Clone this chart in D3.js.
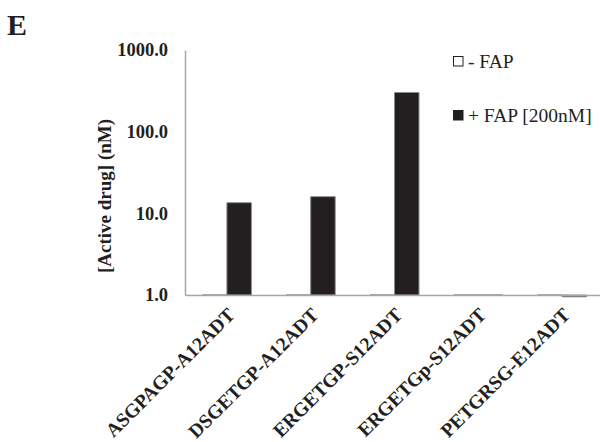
<!DOCTYPE html>
<html>
<head>
<meta charset="utf-8">
<script src="https://cdn.jsdelivr.net/npm/d3@7"></script>
<style>
  body { margin: 0; background: #fff; }
  svg { display: block; }
</style>
</head>
<body>
<div id="chart"></div>
<script>
const categories = ['ASGPAGP-A12ADT', 'DSGETGP-A12ADT', 'ERGETGP-S12ADT', 'ERGETGp-S12ADT', 'PETGRSG-E12ADT'];
const seriesNames = ['- FAP', '+ FAP [200nM]'];
const minusFap = [1.0, 1.0, 1.0, 1.0, 1.0];
const plusFap = [13.5, 16.0, 302, 1.0, 0.95];
const yTicks = [1, 10, 100, 1000];

const style = {
  ink: '#231f20',
  axis: '#a6a6a6',
  barStroke: '#8c8c8c',
  serif: '"Liberation Serif", "Times New Roman", serif',
};

const width = 600;
const height = 442;
const plot = { left: 185, right: 604, top: 50, bottom: 295 };

const svg = d3.select('#chart').append('svg')
  .attr('width', width)
  .attr('height', height);

const x = d3.scaleBand()
  .domain(categories)
  .range([plot.left, plot.right])
  .paddingInner(0.415)
  .paddingOuter(0.2075);

const x1 = d3.scaleBand()
  .domain(seriesNames)
  .range([0, x.bandwidth()]);

const y = d3.scaleLog()
  .domain([1, 1000])
  .range([plot.bottom, plot.top]);

function barPath(cx, w, v) {
  const y0 = y(1);
  const y1 = y(v);
  return `M${cx},${y0} L${cx},${y1} L${cx + w},${y1} L${cx + w},${y0} Z`;
}

// panel letter
svg.append('text')
  .attr('x', 7)
  .attr('y', 35)
  .attr('font-family', style.serif)
  .attr('font-weight', 'bold')
  .attr('font-size', 30)
  .attr('fill', style.ink)
  .text('E');

// y axis
const yAxis = d3.axisLeft(y)
  .tickValues(yTicks)
  .tickFormat(d3.format('.1f'))
  .tickSize(0)
  .tickPadding(17);

const gy = svg.append('g')
  .attr('transform', `translate(${plot.left},0)`)
  .call(yAxis);

gy.select('.domain')
  .attr('stroke', style.axis)
  .attr('stroke-width', 1.5);

gy.selectAll('text')
  .attr('font-family', style.serif)
  .attr('font-weight', 'bold')
  .attr('font-size', 18.5)
  .attr('fill', style.ink);

svg.append('text')
  .attr('transform', `translate(111,196) rotate(-90)`)
  .attr('text-anchor', 'middle')
  .attr('font-family', style.serif)
  .attr('font-weight', 'bold')
  .attr('font-size', 19)
  .attr('fill', style.ink)
  .text('[Active drug] (nM)');

// bars
const rows = categories.map((c, i) => ({ cat: c, values: [minusFap[i], plusFap[i]] }));

const groups = svg.selectAll('.group')
  .data(rows)
  .enter().append('g')
  .attr('class', 'group');

groups.selectAll('path')
  .data((d) => d.values.map((v, j) => ({ cat: d.cat, name: seriesNames[j], value: v })))
  .enter().append('path')
  .attr('d', (d) => barPath(x(d.cat) + x1(d.name), x1.bandwidth(), d.value))
  .attr('fill', (d) => (d.name === seriesNames[0] ? '#fff' : style.ink))
  .attr('stroke', style.barStroke)
  .attr('stroke-width', 1);

// x axis
const xAxis = d3.axisBottom(x).tickSize(0).tickFormat('');
const gx = svg.append('g')
  .attr('transform', `translate(0,${plot.bottom})`)
  .call(xAxis);

gx.select('.domain')
  .attr('stroke', style.axis)
  .attr('stroke-width', 1.5);

svg.selectAll('.xlabel')
  .data(categories)
  .enter().append('text')
  .attr('class', 'xlabel')
  .attr('transform', (d) => `translate(${x(d) + x.bandwidth() / 2 + 9},${plot.bottom + 21}) rotate(-45)`)
  .attr('text-anchor', 'end')
  .attr('font-family', style.serif)
  .attr('font-weight', 'bold')
  .attr('font-size', 19.5)
  .attr('fill', style.ink)
  .text((d) => d);

// legend
const legend = svg.selectAll('.legend')
  .data(seriesNames)
  .enter().append('g')
  .attr('class', 'legend')
  .attr('transform', (d, i) => `translate(453,${61 + i * 54})`);

legend.append('rect')
  .attr('x', 0.5)
  .attr('y', -4.5)
  .attr('width', 9.5)
  .attr('height', 9.5)
  .attr('fill', (d, i) => (i === 0 ? '#fff' : style.ink))
  .attr('stroke', style.ink)
  .attr('stroke-width', 1);

legend.append('text')
  .attr('x', 15)
  .attr('y', 6.5)
  .attr('font-family', style.serif)
  .attr('font-size', 19.5)
  .attr('fill', style.ink)
  .text((d) => d);
</script>
</body>
</html>
